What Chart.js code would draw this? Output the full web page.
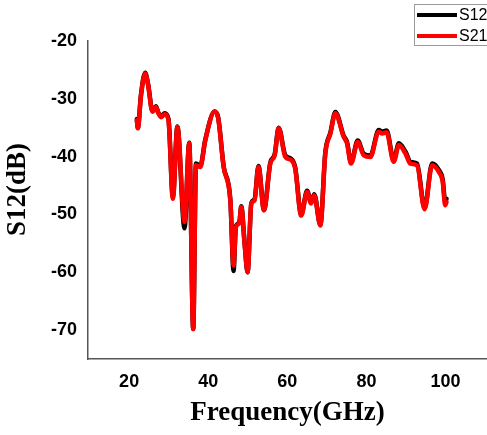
<!DOCTYPE html>
<html>
<head>
<meta charset="utf-8">
<script src="https://cdn.jsdelivr.net/npm/chart.js@4/dist/chart.umd.min.js"></script>
<style>
  html, body { margin: 0; padding: 0; background: #fff; overflow: hidden; }
  #wrap { width: 493px; height: 435px; }
</style>
</head>
<body>
<div id="wrap"><canvas id="c" width="493" height="435"></canvas></div>
<script>
const freq = [21.95, 22.2, 23.0, 24.05, 24.8, 25.9, 26.76, 27.4, 28.1, 29.0, 29.95, 31.06, 32.2, 34.0, 35.2, 36.2, 36.9, 38.0, 39.25, 41.6, 42.5, 43.9, 45.6, 46.4, 47.0, 47.85, 48.35, 49.2, 49.95, 50.9, 51.7, 52.7, 54.1, 55.7, 56.8, 57.8, 59.5, 61.0, 62.0, 63.5, 65.0, 66.0, 66.8, 68.35, 69.6, 70.9, 72.15, 74.25, 75.1, 76.1, 77.8, 79.3, 81.0, 83.1, 84.0, 85.1, 86.9, 88.2, 89.9, 91.1, 92.8, 94.7, 96.6, 98.3, 99.3, 99.9, 100.25];
const s12 = [-33.5, -35.0, -29.3, -25.5, -27.5, -32.1, -31.3, -32.4, -33.0, -32.5, -33.5, -47.0, -34.8, -52.4, -37.6, -69.8, -41.2, -41.6, -37.1, -32.2, -33.2, -41.7, -47.6, -59.8, -52.0, -51.4, -48.6, -55.0, -60.0, -48.0, -47.4, -41.6, -49.2, -41.0, -39.6, -35.0, -39.8, -40.4, -41.9, -50.0, -45.9, -47.9, -46.5, -51.8, -39.3, -35.8, -32.3, -36.4, -37.5, -41.0, -37.2, -39.5, -39.8, -35.4, -35.7, -35.5, -40.6, -37.7, -39.2, -40.9, -41.2, -48.9, -41.2, -42.3, -44.0, -47.8, -47.3];
const s21 = [-33.7, -35.1, -29.4, -25.6, -27.6, -32.25, -31.4, -32.5, -33.2, -32.65, -33.7, -47.3, -34.85, -51.3, -37.7, -69.8, -41.5, -41.8, -37.2, -32.25, -33.3, -41.8, -47.6, -58.8, -52.2, -51.5, -48.7, -55.1, -60.0, -48.1, -47.6, -41.8, -49.3, -41.2, -39.8, -35.1, -40.05, -40.6, -42.1, -50.2, -46.1, -48.1, -46.7, -51.9, -39.5, -36.0, -32.5, -36.6, -37.7, -41.2, -37.45, -39.75, -40.05, -35.7, -36.0, -35.8, -40.9, -38.0, -39.5, -41.2, -41.5, -49.1, -41.5, -42.65, -44.4, -48.4, -47.85];
const xTicks = [20, 40, 60, 80, 100];
const yTicks = [-70, -60, -50, -40, -30, -20];
const seriesLabels = ['S12', 'S21'];
const xTitle = 'Frequency(GHz)';
const yTitle = 'S12(dB)';

const pts = (vals) => freq.map((f, i) => ({x: f, y: vals[i]}));

const titlesAndLegend = {
  id: 'titlesAndLegend',
  afterDraw(chart) {
    const ctx = chart.ctx;
    ctx.save();
    ctx.fillStyle = '#000';
    ctx.font = 'bold 27px "Liberation Serif", "Times New Roman", serif';
    ctx.textAlign = 'center';
    ctx.textBaseline = 'middle';
    ctx.fillText(xTitle, 287.5, 413);
    ctx.save();
    ctx.translate(18, 189.5);
    ctx.rotate(-Math.PI / 2);
    ctx.fillText(yTitle, 0, 0);
    ctx.restore();
    ctx.strokeStyle = '#9a9a9a';
    ctx.lineWidth = 1;
    ctx.strokeRect(414.5, 4.5, 100, 41);
    chart.data.datasets.forEach((ds, i) => {
      const y = 15 + i * 21;
      ctx.beginPath();
      ctx.strokeStyle = ds.borderColor;
      ctx.lineWidth = 4;
      ctx.moveTo(417, y);
      ctx.lineTo(457, y);
      ctx.stroke();
      ctx.fillStyle = '#000';
      ctx.font = '16px "Liberation Sans", Arial, sans-serif';
      ctx.textAlign = 'left';
      ctx.textBaseline = 'middle';
      ctx.fillText(ds.label, 459, y + 1);
    });
    ctx.restore();
  }
};

new Chart(document.getElementById('c'), {
  type: 'line',
  data: {
    datasets: [
      { label: seriesLabels[0], order: 1, data: pts(s12), borderColor: '#000000', borderWidth: 4.5, pointRadius: 0, cubicInterpolationMode: 'monotone', borderJoinStyle: 'round', borderCapStyle: 'round', fill: false },
      { label: seriesLabels[1], order: 0, data: pts(s21), borderColor: '#ff0000', borderWidth: 4.5, pointRadius: 0, cubicInterpolationMode: 'monotone', borderJoinStyle: 'round', borderCapStyle: 'round', fill: false }
    ]
  },
  options: {
    responsive: false,
    animation: false,
    layout: { padding: { top: 41, left: 0, right: 0, bottom: 0 } },
    plugins: { legend: { display: false }, tooltip: { enabled: false } },
    scales: {
      x: {
        type: 'linear',
        min: 9.6,
        max: 112,
        afterBuildTicks: (s) => { s.ticks = xTicks.map(v => ({value: v})); },
        afterFit: (s) => { s.height = 76; },
        grid: { display: false, drawTicks: false, tickLength: 0 },
        border: { display: true, color: '#555', width: 1.5 },
        ticks: { color: '#000', padding: 12, font: { family: '"Liberation Sans", Arial, sans-serif', size: 18, weight: 'bold' } }
      },
      y: {
        type: 'linear',
        min: -75,
        max: -20,
        afterBuildTicks: (s) => { s.ticks = yTicks.map(v => ({value: v})); },
        afterFit: (s) => { s.width = 88; },
        grid: { display: false, drawTicks: false, tickLength: 0 },
        border: { display: true, color: '#555', width: 1.5 },
        ticks: { color: '#000', padding: 11, font: { family: '"Liberation Sans", Arial, sans-serif', size: 18, weight: 'bold' } }
      }
    }
  },
  plugins: [titlesAndLegend]
});
</script>
</body>
</html>
